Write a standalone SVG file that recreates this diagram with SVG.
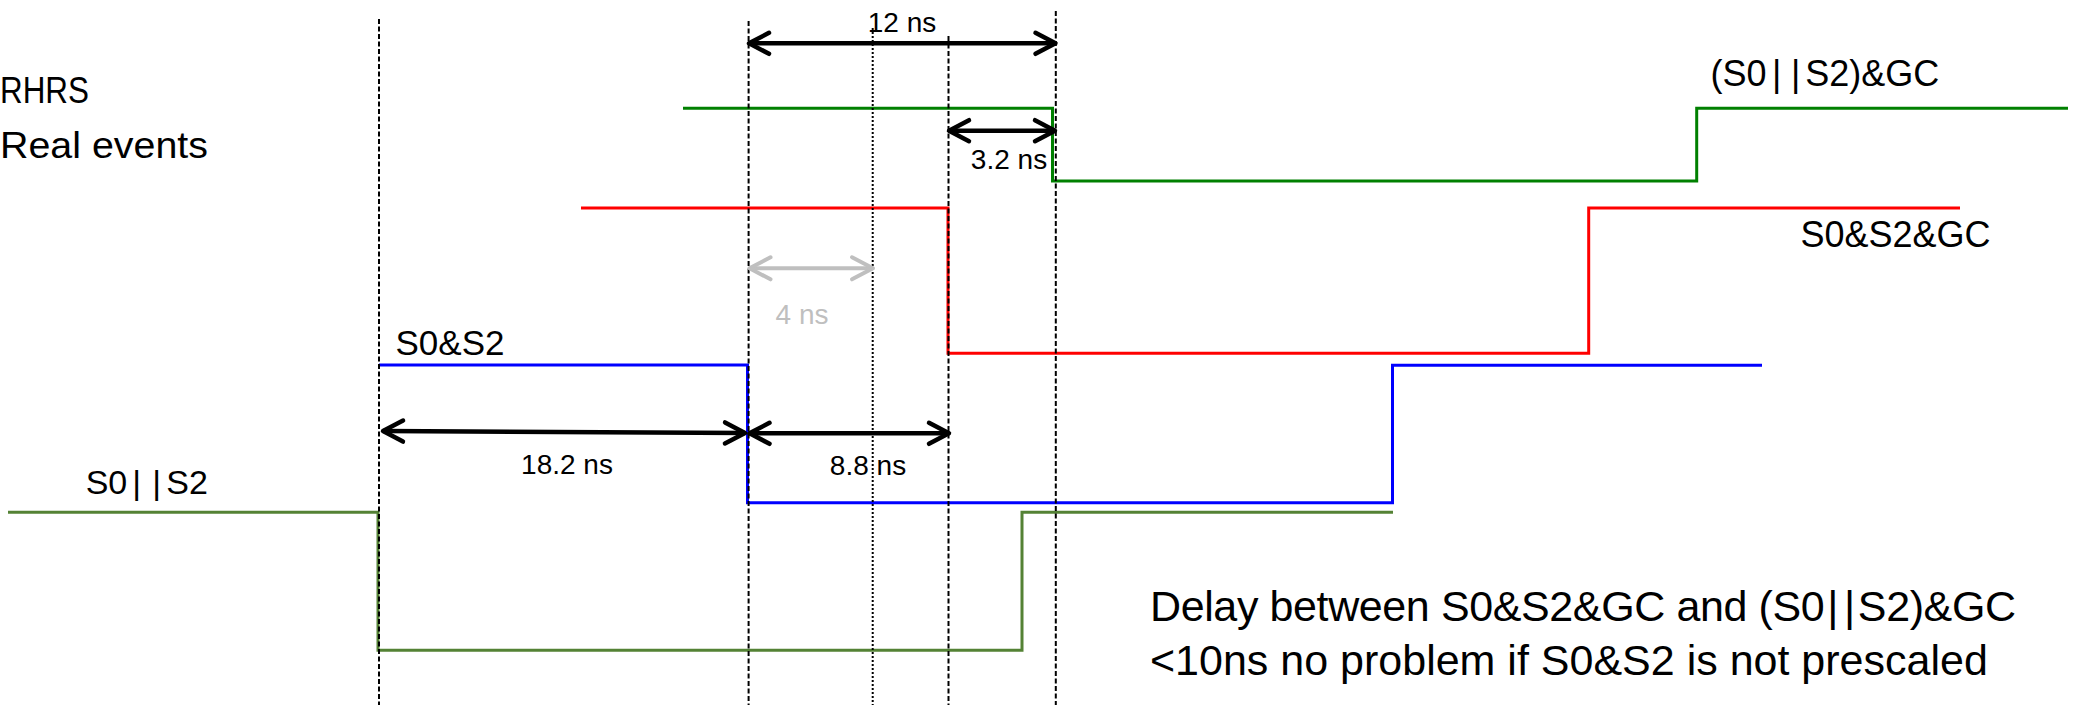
<svg xmlns="http://www.w3.org/2000/svg" width="2085" height="705" viewBox="0 0 2085 705">
  <style>
    .txt { font-family: "Liberation Sans", Arial, sans-serif; fill: #000; }
    .sig { fill: none; stroke-width: 3; stroke-linejoin: miter; }
    .dash { stroke: #000; stroke-width: 2; stroke-dasharray: 5 2.5; }
    .dot { stroke: #000; stroke-width: 2; stroke-dasharray: 2 2; }
    .dim { stroke: #000; stroke-width: 4.5; }
    .dim-grey { stroke: #BFBFBF; stroke-width: 4; }
  </style>
  <defs>
    <marker id="chev" markerUnits="userSpaceOnUse" orient="auto-start-reverse" overflow="visible" refX="0" refY="0" markerWidth="30" markerHeight="30">
      <path d="M-20,-10.5 L0,0 L-20,10.5" fill="none" stroke="#000" stroke-width="4.5" stroke-linecap="round" stroke-linejoin="round"/>
    </marker>
    <marker id="chev-grey" markerUnits="userSpaceOnUse" orient="auto-start-reverse" overflow="visible" refX="0" refY="0" markerWidth="30" markerHeight="30">
      <path d="M-21,-11 L0,0 L-21,11" fill="none" stroke="#BFBFBF" stroke-width="4" stroke-linecap="round" stroke-linejoin="round"/>
    </marker>
  </defs>

  <rect width="2085" height="705" fill="#fff"/>

  <!-- legend -->
  <g id="legend">
    <text class="txt" x="0" y="103" font-size="36" textLength="89" lengthAdjust="spacingAndGlyphs">RHRS</text>
    <text class="txt" x="0" y="158" font-size="36" textLength="208" lengthAdjust="spacingAndGlyphs">Real events</text>
  </g>

  <!-- waveforms -->
  <g id="sig-or-gc">
    <path class="sig" stroke="#008000" d="M683,108.3 H1052.5 V181 H1696.7 V108.3 H2068"/>
    <text class="txt" x="1710.5" y="86" font-size="36">(S0<tspan dx="5.5">|</tspan><tspan dx="9.7">|</tspan><tspan dx="4.8">S2)&amp;GC</tspan></text>
  </g>
  <g id="sig-and-gc">
    <path class="sig" stroke="#FF0000" d="M581,208 H948 V353.3 H1588.7 V208 H1960"/>
    <text class="txt" x="1800.5" y="247" font-size="36">S0&amp;S2&amp;GC</text>
  </g>
  <g id="sig-and">
    <path class="sig" stroke="#0000FF" d="M379,365 H747.5 V502.7 H1392.5 V365.3 H1762"/>
    <text class="txt" x="395.5" y="355" font-size="35">S0&amp;S2</text>
  </g>
  <g id="sig-or">
    <path class="sig" stroke="#548235" d="M8,512.3 H378 V650.3 H1022 V512.3 H1393"/>
    <text class="txt" x="85.7" y="494" font-size="34">S0<tspan dx="4.9">|</tspan><tspan dx="11.1">|</tspan><tspan dx="5.3">S2</tspan></text>
  </g>

  <!-- time markers and delay dimensions -->
  <g id="connectors">
    <line class="dash" x1="379" y1="19" x2="379" y2="705"/>
    <line class="dash" x1="748.6" y1="21" x2="748.6" y2="705"/>
    <line class="dot" x1="872.7" y1="28" x2="872.7" y2="705"/>
    <line class="dash" x1="948.5" y1="36" x2="948.5" y2="705"/>
    <line class="dash" x1="1055.8" y1="11" x2="1055.8" y2="705"/>

    <line class="dim" x1="749" y1="43.3" x2="1055.5" y2="43.3" marker-start="url(#chev)" marker-end="url(#chev)"/>
    <line class="dim" x1="949" y1="130.7" x2="1055" y2="130.7" marker-start="url(#chev)" marker-end="url(#chev)"/>
    <line class="dim-grey" x1="749.5" y1="268.3" x2="873" y2="268.3" marker-start="url(#chev-grey)" marker-end="url(#chev-grey)"/>
    <line class="dim" x1="383" y1="431" x2="745" y2="433" marker-start="url(#chev)" marker-end="url(#chev)"/>
    <line class="dim" x1="749.5" y1="433.3" x2="949" y2="433.3" marker-start="url(#chev)" marker-end="url(#chev)"/>
  </g>

  <!-- dimension labels -->
  <g id="labels">
    <text class="txt" x="902" y="32" font-size="28" text-anchor="middle">12 ns</text>
    <text class="txt" x="1009" y="169" font-size="28" text-anchor="middle">3.2 ns</text>
    <text class="txt" x="802" y="324" font-size="28" text-anchor="middle" style="fill:#BFBFBF">4 ns</text>
    <text class="txt" x="567" y="474" font-size="28" text-anchor="middle">18.2 ns</text>
    <text class="txt" x="868" y="475" font-size="28" text-anchor="middle">8.8 ns</text>
  </g>

  <!-- note -->
  <g id="note">
    <text class="txt" x="1150" y="621" font-size="43" textLength="866" lengthAdjust="spacing">Delay between S0&amp;S2&amp;GC and (S0<tspan dx="3">|</tspan><tspan dx="6">|</tspan><tspan dx="3">S2)&amp;GC</tspan></text>
    <text class="txt" x="1150" y="675" font-size="43">&lt;10ns no problem if S0&amp;S2 is not prescaled</text>
  </g>
</svg>
